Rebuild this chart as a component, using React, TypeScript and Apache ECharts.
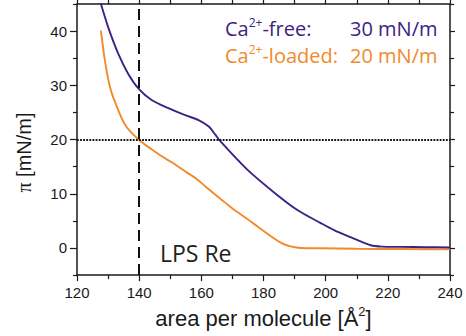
import React, { useEffect, useRef } from "react";
import * as echarts from "echarts";

// Ca2+-free isotherm (area per molecule [Å²], π [mN/m])
const freeX = [127.0, 127.7, 130.1, 133.3, 136.5, 139.8, 144.0, 149.4, 154.8, 159.1, 162.4, 164.5, 166.1, 174.7, 183.3, 190.9, 198.4, 202.7, 208.0, 214.5, 218.0, 224.2, 232.0, 240.0];
const freeY = [46.3, 45.0, 40.6, 35.8, 32.1, 29.4, 27.3, 25.8, 24.5, 23.6, 22.4, 20.9, 19.7, 14.5, 10.3, 7.0, 4.6, 3.3, 2.0, 0.5, 0.25, 0.2, 0.15, 0.1];

// Ca2+-loaded isotherm
const loadedX = [127.7, 129.0, 130.6, 132.8, 135.5, 139.8, 144.0, 147.0, 150.5, 155.4, 158.6, 162.0, 166.1, 170.0, 174.7, 177.0, 183.3, 186.5, 188.7, 192.0, 198.4, 210.0, 225.0, 240.0];
const loadedY = [40.1, 34.5, 29.7, 26.1, 22.7, 20.0, 18.2, 17.0, 15.8, 13.9, 12.7, 11.0, 9.1, 7.3, 5.4, 4.4, 1.8, 0.7, 0.3, 0.0, -0.05, -0.15, -0.2, -0.25];

const yMajorTicks = [0, 10, 20, 30, 40];
const yMinorTicks = [-5, 5, 15, 25, 35, 45];
const refArea = 140;
const refPressure = 20;

const PURPLE = "#3d2283";
const ORANGE = "#f08a2b";

export default function App() {
  const ref = useRef<HTMLDivElement>(null);
  useEffect(() => {
    if (!ref.current) return;
    const chart = echarts.init(ref.current, null, { renderer: "svg" });
    const axisLine = { show: true, onZero: false, lineStyle: { color: "#1a1a1a", width: 1.5 } };
    const tickStyle = { color: "#1a1a1a", width: 1.2 };
    const labelStyle = { fontSize: 15, color: "#1a1a1a", fontFamily: "Liberation Sans", margin: 10 };
    const xBase = {
      type: "value" as const,
      min: 120,
      max: 240,
      interval: 20,
      splitLine: { show: false },
      axisLine,
      axisTick: { show: true, length: 6, lineStyle: tickStyle },
      minorTick: { show: true, splitNumber: 2, length: 4, lineStyle: tickStyle },
    };
    const yBase = {
      type: "value" as const,
      min: -5,
      max: 45,
      splitLine: { show: false },
    };
    chart.setOption({
      animation: false,
      grid: { left: 77, right: 16, top: 4, bottom: 59 },
      xAxis: [
        {
          ...xBase,
          position: "bottom",
          axisLabel: labelStyle,
          name: "area per molecule [Å{sup|2}]",
          nameLocation: "middle",
          nameGap: 29,
          nameTextStyle: {
            fontSize: 22,
            color: "#1a1a1a",
            fontFamily: "Liberation Sans",
            lineHeight: 26,
            rich: { sup: { fontSize: 13, lineHeight: 14, verticalAlign: "top", fontFamily: "Liberation Sans", color: "#1a1a1a" } },
          },
        },
        { ...xBase, position: "top", axisLabel: { show: false } },
      ],
      yAxis: [
        {
          ...yBase,
          position: "left",
          axisLine,
          axisTick: { show: true, length: 7, customValues: yMajorTicks, lineStyle: tickStyle },
          axisLabel: { ...labelStyle, customValues: yMajorTicks },
        },
        {
          ...yBase,
          position: "left",
          axisLine: { show: false, onZero: false },
          axisTick: { show: true, length: 4, customValues: yMinorTicks, lineStyle: tickStyle },
          axisLabel: { show: false },
        },
        {
          ...yBase,
          position: "right",
          axisLine,
          axisTick: { show: true, length: 5, customValues: yMajorTicks, lineStyle: tickStyle },
          axisLabel: { show: false },
        },
        {
          ...yBase,
          position: "right",
          axisLine: { show: false, onZero: false },
          axisTick: { show: true, length: 4, customValues: yMinorTicks, lineStyle: tickStyle },
          axisLabel: { show: false },
        },
      ],
      series: [
        {
          type: "line",
          name: "Ca2+-loaded",
          data: loadedX.map((x, i) => [x, loadedY[i]]),
          showSymbol: false,
          smooth: 0.3,
          lineStyle: { color: ORANGE, width: 1.9 },
          itemStyle: { color: ORANGE },
          z: 3,
        },
        {
          type: "line",
          name: "Ca2+-free",
          data: freeX.map((x, i) => [x, freeY[i]]),
          showSymbol: false,
          smooth: 0.3,
          lineStyle: { color: PURPLE, width: 1.9 },
          itemStyle: { color: PURPLE },
          z: 3,
          markLine: {
            silent: true,
            symbol: ["none", "none"],
            label: { show: false },
            data: [
              { xAxis: refArea, lineStyle: { type: [11, 6], width: 2, color: "#111" } },
              { yAxis: refPressure, lineStyle: { type: [1.8, 1.3], width: 2, color: "#111" } },
            ],
          },
        },
      ],
      graphic: [
        {
          type: "text",
          x: 225,
          y: 28,
          style: {
            text: "{n|Ca}{s|2+}{n|-free:}",
            fill: PURPLE,
            verticalAlign: "middle",
            rich: {
              n: { fontSize: 20, fontFamily: "Open Sans", fill: PURPLE, lineHeight: 24 },
              s: { fontSize: 12, fontFamily: "Open Sans", fill: PURPLE, lineHeight: 14, verticalAlign: "top" },
            },
          },
        },
        {
          type: "text",
          x: 350,
          y: 28,
          style: { text: "30 mN/m", fill: PURPLE, fontSize: 20, fontFamily: "Open Sans", verticalAlign: "middle" },
        },
        {
          type: "text",
          x: 225,
          y: 55.5,
          style: {
            text: "{n|Ca}{s|2+}{n|-loaded:}",
            fill: ORANGE,
            verticalAlign: "middle",
            rich: {
              n: { fontSize: 20, fontFamily: "Open Sans", fill: ORANGE, lineHeight: 24 },
              s: { fontSize: 12, fontFamily: "Open Sans", fill: ORANGE, lineHeight: 14, verticalAlign: "top" },
            },
          },
        },
        {
          type: "text",
          x: 350,
          y: 55.5,
          style: { text: "20 mN/m", fill: ORANGE, fontSize: 20, fontFamily: "Open Sans", verticalAlign: "middle" },
        },
        {
          type: "text",
          x: 160,
          y: 253,
          style: { text: "LPS Re", fill: "#222", fontSize: 23, fontFamily: "Open Sans", verticalAlign: "middle" },
        },
        {
          type: "text",
          x: 23.5,
          y: 152.5,
          rotation: Math.PI / 2,
          style: {
            text: "{p|π} [mN/m]",
            fill: "#1a1a1a",
            fontSize: 20,
            fontFamily: "Liberation Sans",
            align: "center",
            verticalAlign: "middle",
            rich: {
              p: { fontSize: 20, fontFamily: "Liberation Serif", fill: "#1a1a1a" },
            },
          },
        },
      ],
    });
    return () => chart.dispose();
  }, []);
  return (
    <div
      ref={ref}
      style={{ position: "absolute", left: 0, top: 0, width: 466, height: 336 }}
    />
  );
}
